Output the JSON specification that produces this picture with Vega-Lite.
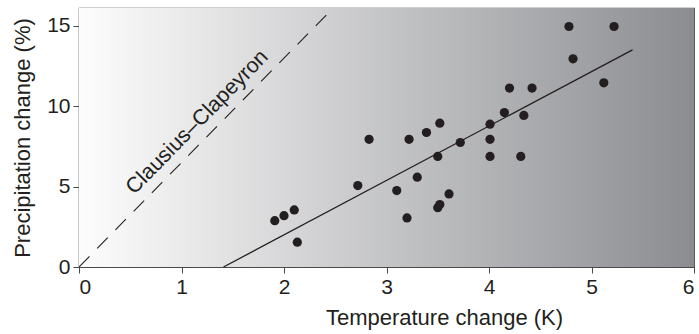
{
  "$schema": "https://vega.github.io/schema/vega-lite/v6.json",
  "width": 615,
  "height": 259,
  "autosize": "none",
  "padding": {"left": 79, "top": 8, "right": 5, "bottom": 67},
  "background": "white",
  "config": {
    "view": {"stroke": "#4a4a4a", "strokeWidth": 1.2},
    "font": "Liberation Sans",
    "axis": {
      "grid": false,
      "domain": false,
      "tickColor": "#4a4a4a",
      "tickSize": 6,
      "labelFont": "Liberation Sans",
      "labelFontSize": 21,
      "labelColor": "#231f20",
      "titleFont": "Liberation Sans",
      "titleFontSize": 22,
      "titleFontWeight": "normal",
      "titleColor": "#231f20"
    }
  },
  "datasets": {
    "points": [
      {"t": 1.91, "p": 2.88}, {"t": 2.0, "p": 3.19}, {"t": 2.10, "p": 3.55}, {"t": 2.13, "p": 1.54},
      {"t": 2.72, "p": 5.06}, {"t": 2.83, "p": 7.94}, {"t": 3.10, "p": 4.75}, {"t": 3.20, "p": 3.05},
      {"t": 3.22, "p": 7.94}, {"t": 3.30, "p": 5.58}, {"t": 3.39, "p": 8.36}, {"t": 3.50, "p": 6.87},
      {"t": 3.50, "p": 3.69}, {"t": 3.52, "p": 3.88}, {"t": 3.52, "p": 8.94}, {"t": 3.61, "p": 4.54},
      {"t": 3.72, "p": 7.74}, {"t": 4.01, "p": 8.88}, {"t": 4.01, "p": 7.94}, {"t": 4.01, "p": 6.87},
      {"t": 4.15, "p": 9.60}, {"t": 4.20, "p": 11.12}, {"t": 4.31, "p": 6.87}, {"t": 4.34, "p": 9.42},
      {"t": 4.42, "p": 11.12}, {"t": 4.78, "p": 14.95}, {"t": 4.82, "p": 12.94}, {"t": 5.12, "p": 11.45},
      {"t": 5.22, "p": 14.95}
    ],
    "cc": [{"t": 0, "p": 0}, {"t": 2.48, "p": 16.1}],
    "fit": [{"t": 1.41, "p": 0}, {"t": 5.40, "p": 13.5}],
    "label": [{"t": 1.156, "p": 8.99, "name": "Clausius–Clapeyron"}],
    "bg": [{"t0": 0, "t1": 6, "p0": 0, "p1": 16.1}]
  },
  "layer": [
    {
      "data": {"name": "bg"},
      "mark": {
        "type": "rect",
        "color": {
          "gradient": "linear", "x1": 0, "y1": 0, "x2": 1, "y2": 0,
          "stops": [{"offset": 0, "color": "#fdfdfd"}, {"offset": 1, "color": "#8c8d91"}]
        }
      },
      "encoding": {
        "x": {"field": "t0", "type": "quantitative", "scale": {"domain": [0, 6], "nice": false},
              "axis": {"title": "Temperature change (K)", "values": [0,1,2,3,4,5,6], "format": "d", "labelPadding": 3, "titlePadding": 10, "titleX": 365, "titleAlign": "center"}},
        "x2": {"field": "t1"},
        "y": {"field": "p0", "type": "quantitative", "scale": {"domain": [0, 16.1], "nice": false},
              "axis": {"title": "Precipitation change (%)", "values": [0,5,10,15], "format": "d", "labelPadding": 3, "titlePadding": 12}},
        "y2": {"field": "p1"}
      }
    },
    {
      "data": {"name": "cc"},
      "mark": {"type": "line", "color": "#231f20", "strokeWidth": 1.1, "strokeDash": [15, 11], "clip": true},
      "encoding": {
        "x": {"field": "t", "type": "quantitative"},
        "y": {"field": "p", "type": "quantitative"}
      }
    },
    {
      "data": {"name": "fit"},
      "mark": {"type": "line", "color": "#231f20", "strokeWidth": 1.3},
      "encoding": {
        "x": {"field": "t", "type": "quantitative"},
        "y": {"field": "p", "type": "quantitative"}
      }
    },
    {
      "data": {"name": "points"},
      "mark": {"type": "circle", "color": "#231f20", "opacity": 1, "size": 85},
      "encoding": {
        "x": {"field": "t", "type": "quantitative"},
        "y": {"field": "p", "type": "quantitative"}
      }
    },
    {
      "data": {"name": "label"},
      "mark": {"type": "text", "angle": -45.5, "align": "center", "baseline": "middle", "fontSize": 21.5, "color": "#231f20"},
      "encoding": {
        "x": {"field": "t", "type": "quantitative"},
        "y": {"field": "p", "type": "quantitative"},
        "text": {"field": "name"}
      }
    }
  ]
}
